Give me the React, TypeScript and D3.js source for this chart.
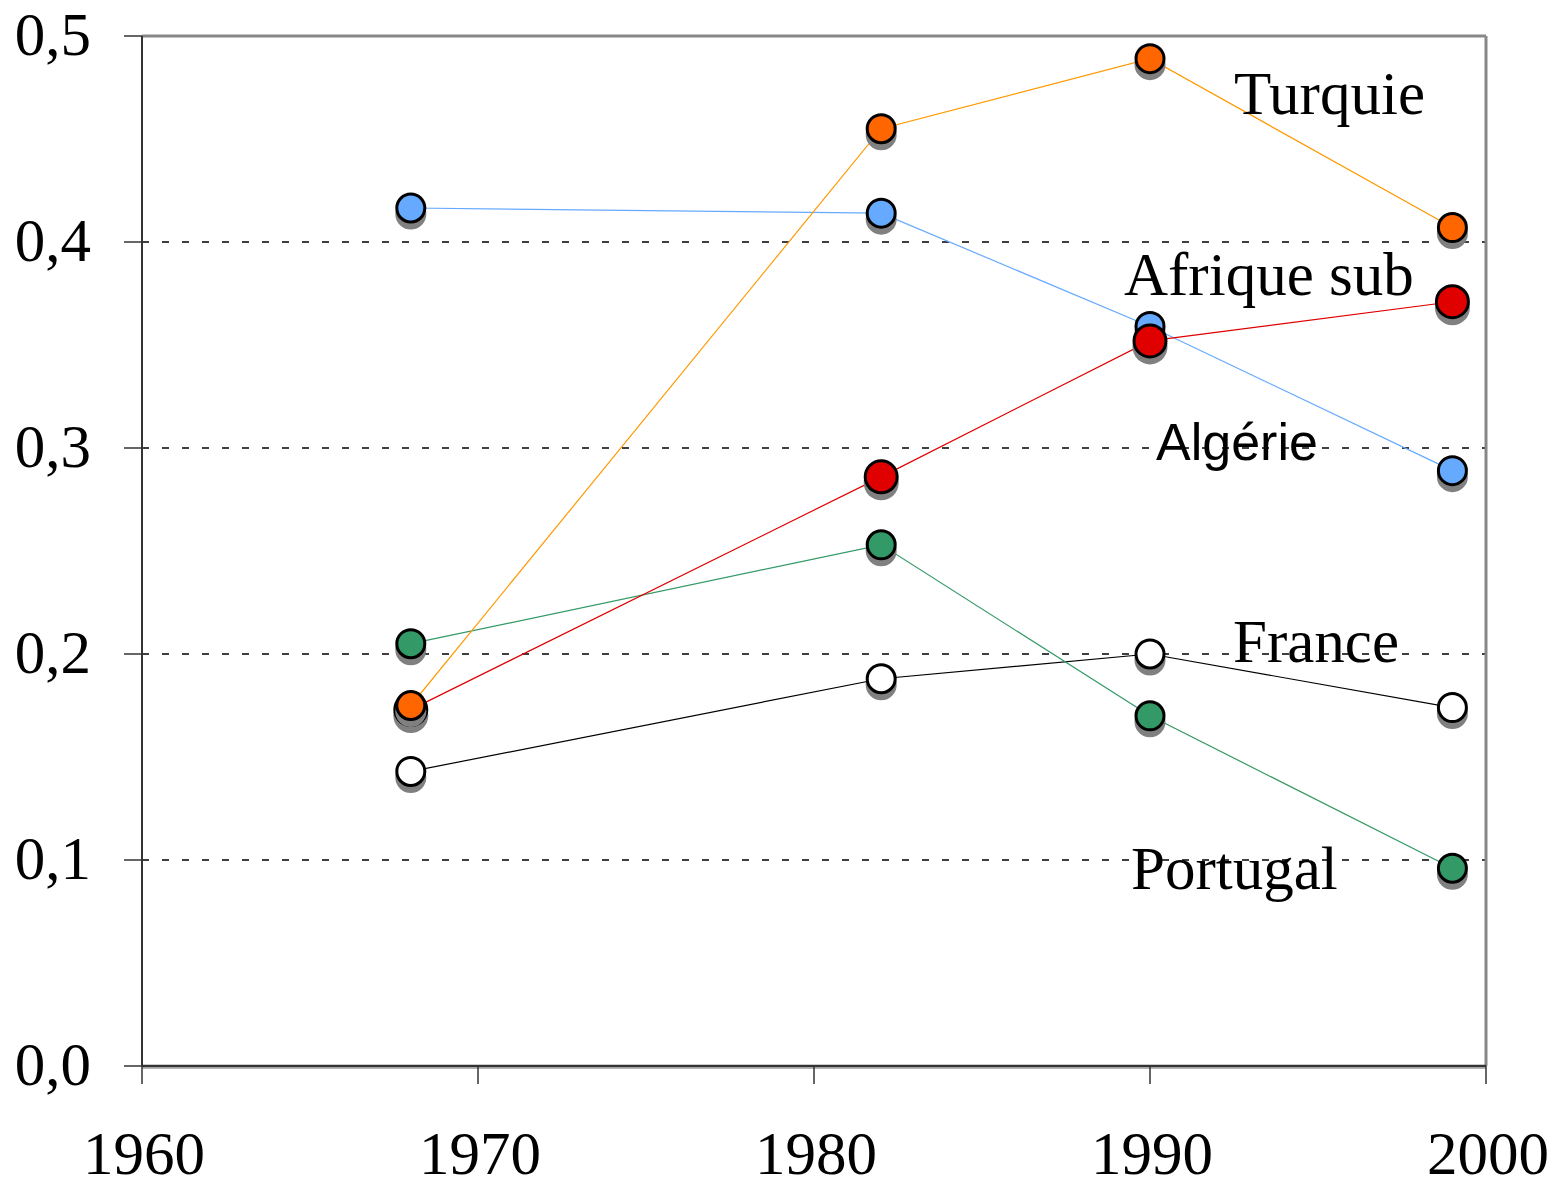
import React from "react";
import * as d3 from "d3";

const years = [1968, 1982, 1990, 1999];
const france = [0.143, 0.188, 0.2, 0.174];
const portugal = [0.205, 0.253, 0.17, 0.096];
const algerie = [0.4165, 0.414, 0.359, 0.289];
const afriqueSub = [0.173, 0.286, 0.352, 0.371];
const turquie = [0.175, 0.455, 0.489, 0.407];
const yTicks = [0, 0.1, 0.2, 0.3, 0.4, 0.5];
const xTicks = [1960, 1970, 1980, 1990, 2000];

const series = [
  { name: "France", values: france, line: "#000000", fill: "#ffffff", r: 14 },
  { name: "Portugal", values: portugal, line: "#339966", fill: "#339966", r: 14 },
  { name: "Algérie", values: algerie, line: "#66aaff", fill: "#66aaff", r: 14 },
  { name: "Afrique sub", values: afriqueSub, line: "#e00000", fill: "#e00000", r: 16 },
  { name: "Turquie", values: turquie, line: "#ff9900", fill: "#ff6600", r: 14 },
];

const labels = [
  { text: "Turquie", x: 1234, y: 114, font: "Liberation Serif", size: 61 },
  { text: "Afrique sub", x: 1124, y: 295, font: "Liberation Serif", size: 61 },
  { text: "Algérie", x: 1156, y: 460, font: "Liberation Sans", size: 52 },
  { text: "France", x: 1233, y: 662, font: "Liberation Serif", size: 61 },
  { text: "Portugal", x: 1131, y: 889, font: "Liberation Serif", size: 61 },
];

export default function App() {
  const W = 1551, H = 1182;
  const left = 142, right = 1486, top = 36, bottom = 1066;
  const x = d3.scaleLinear().domain([1960, 2000]).range([left, right]);
  const y = d3.scaleLinear().domain([0, 0.5]).range([bottom, top]);
  const line = d3.line<number>().x((_, i) => x(years[i])).y((v) => y(v));

  return (
    <svg width={W} height={H} style={{ position: "absolute", left: 0, top: 0, background: "#fff" }}>
      {yTicks.filter((t) => t > 0 && t < 0.5).map((t) => (
        <line key={t} x1={left} x2={right} y1={y(t)} y2={y(t)} stroke="#000" strokeWidth={1.3} strokeDasharray="7,13" />
      ))}
      <line x1={left} x2={right} y1={top} y2={top} stroke="#888" strokeWidth={3} />
      <line x1={right} x2={right} y1={top} y2={bottom} stroke="#888" strokeWidth={3} />
      <line x1={left} x2={left} y1={top} y2={bottom} stroke="#333" strokeWidth={2} />
      <line x1={left} x2={right} y1={bottom} y2={bottom} stroke="#333" strokeWidth={2.5} />
      <line x1={left} x2={right} y1={bottom + 2} y2={bottom + 2} stroke="#999" strokeWidth={1.5} />
      {yTicks.map((t) => (
        <g key={t}>
          <line x1={left - 18} x2={left} y1={y(t)} y2={y(t)} stroke="#333" strokeWidth={1.5} />
          <text x={91} y={y(t) + 19} textAnchor="end" fontFamily="Liberation Serif" fontSize={61} fill="#000">
            {d3.format(".1f")(t).replace(".", ",")}
          </text>
        </g>
      ))}
      {xTicks.map((t) => (
        <g key={t}>
          <line x1={x(t)} x2={x(t)} y1={bottom} y2={bottom + 18} stroke="#333" strokeWidth={1.5} />
          <text x={x(t) + 2} y={1174} textAnchor="middle" fontFamily="Liberation Serif" fontSize={61} fill="#000">
            {t}
          </text>
        </g>
      ))}
      {series.map((s) => (
        <path key={s.name} d={line(s.values) || ""} fill="none" stroke={s.line} strokeWidth={1.2} />
      ))}
      {series.map((s) => (
        <g key={s.name + "m"}>
          {s.values.map((v, i) => (
            <g key={i}>
              <circle cx={x(years[i])} cy={y(v) + 6} r={s.r + 1.5} fill="#808080" />
              <circle cx={x(years[i])} cy={y(v)} r={s.r} fill={s.fill} stroke="#000" strokeWidth={3} />
            </g>
          ))}
        </g>
      ))}
      {labels.map((l) => (
        <text key={l.text} x={l.x} y={l.y} fontFamily={l.font} fontSize={l.size} fill="#000">
          {l.text}
        </text>
      ))}
    </svg>
  );
}
